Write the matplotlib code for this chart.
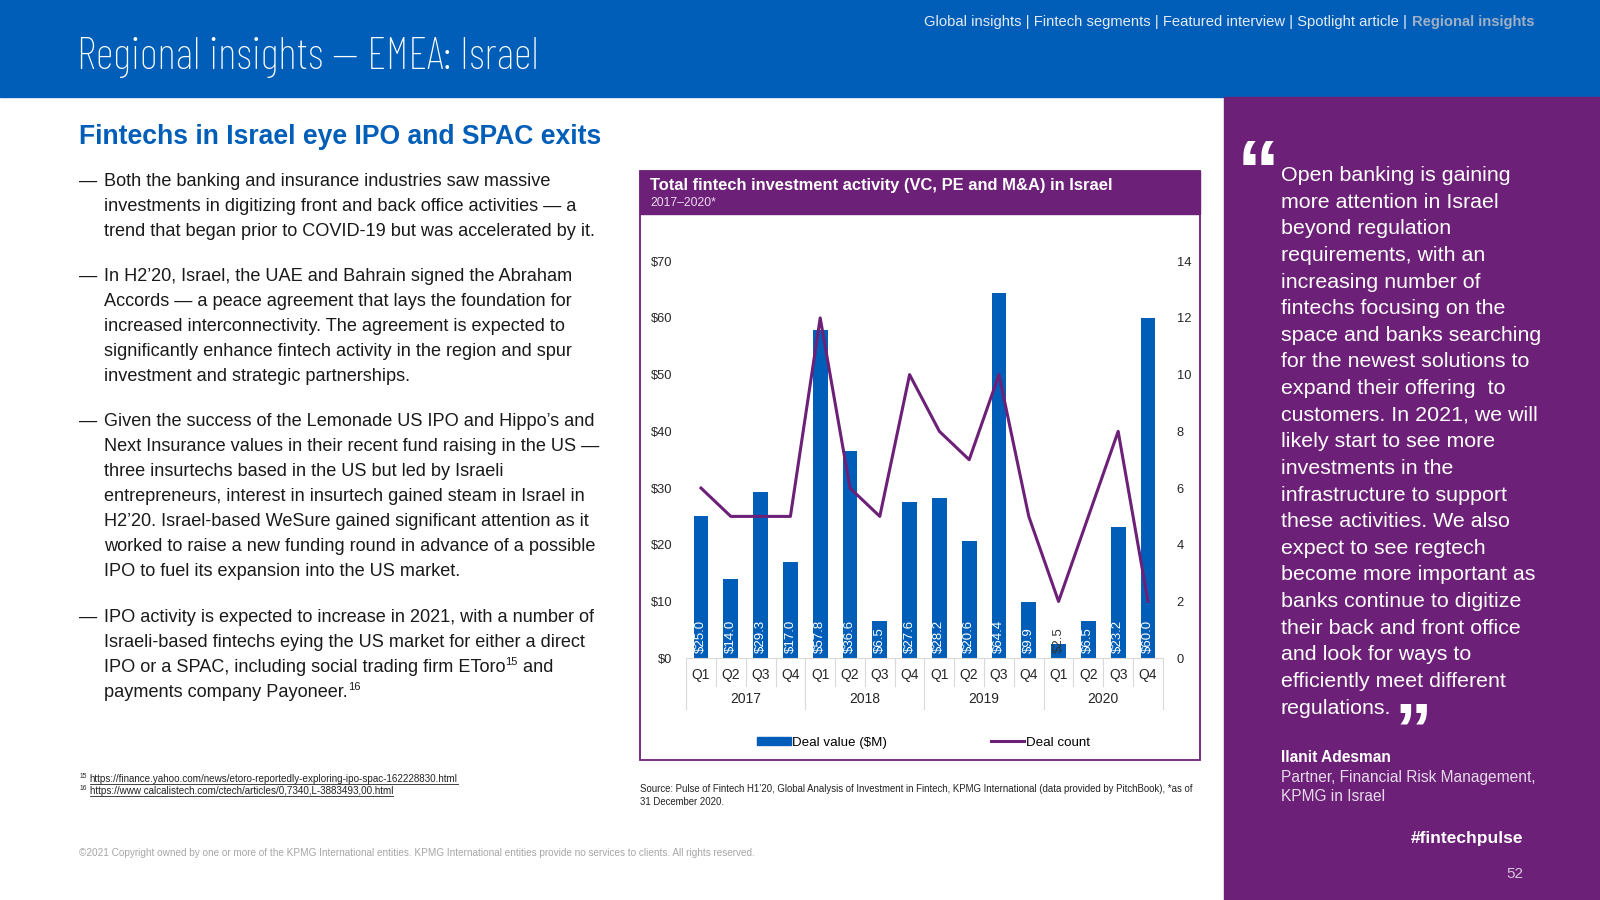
import numpy as np
import matplotlib
matplotlib.use('Agg')
import matplotlib.pyplot as plt
from matplotlib.patches import Rectangle, Patch
from matplotlib.lines import Line2D
from matplotlib import font_manager as fm
from matplotlib.font_manager import FontProperties

plt.rcParams['font.family'] = ['Liberation Sans', 'DejaVu Sans']

# ---- data ----
quarters = ['Q1', 'Q2', 'Q3', 'Q4'] * 4
years = ['2017', '2018', '2019', '2020']
deal_value = [25.0, 14.0, 29.3, 17.0, 57.8, 36.6, 6.5, 27.6,
              28.2, 20.6, 64.4, 9.9, 2.5, 6.5, 23.2, 60.0]
deal_count = [6, 5, 5, 5, 12, 6, 5, 10, 8, 7, 10, 5, 2, 5, 8, 2]
value_ticks = list(range(0, 71, 10))
count_ticks = list(range(0, 15, 2))

BLUE = '#005EB8'
PURPLE = '#6D2077'
W, H = 1568, 882

fig = plt.figure(figsize=(16, 9), dpi=100)
bg = fig.add_axes([0, 0, 1, 1], zorder=0)
bg.set_xlim(0, W)
bg.set_ylim(H, 0)
bg.axis('off')
renderer = fig.canvas.get_renderer()


def right_edge(t):
    bb = t.get_window_extent(renderer)
    return bg.transData.inverted().transform((bb.x1, bb.y0))[0]


def box(x0, y0, x1, y1):
    return [x0 / W, 1 - y1 / H, (x1 - x0) / W, (y1 - y0) / H]


# ---- header band and side panel ----
bg.add_patch(Rectangle((0, 0), W, 95, color=BLUE))
bg.add_patch(Rectangle((1200, 95), W - 1200, H - 95, color=PURPLE))


def pick_condensed():
    best = None
    for f in fm.fontManager.ttflist:
        nm = f.name.lower()
        st = str(f.stretch).lower()
        cond = 'condensed' in nm or 'narrow' in nm or 'condensed' in st
        if not cond or f.style != 'normal':
            continue
        w = f.weight if isinstance(f.weight, int) else fm.weight_dict.get(f.weight, 400)
        score = abs(w - 250)
        if best is None or score < best[0]:
            best = (score, f.fname)
    return best[1] if best else None


cond_path = pick_condensed()
if cond_path:
    title_fp = FontProperties(fname=cond_path, size=42)
else:
    title_fp = FontProperties(family='Roboto', weight='light', size=42)
title = bg.text(75, 68, 'Regional insights — EMEA: Israel', color='white',
                fontproperties=title_fp, va='baseline')
tw = right_edge(title) - 75
if tw > 460:
    title_fp.set_size(42 * 452 / tw)
    title.set_fontproperties(title_fp)

nav = bg.text(906, 22, 'Global insights | Fintech segments | Featured interview | Spotlight article | ',
              color='#E3ECF7', fontsize=10.6, va='center')
bg.text(right_edge(nav), 22, 'Regional insights', color='#9FB0C6',
        fontsize=10.6, fontweight='bold', va='center')

# ---- left column ----
bg.text(77, 134, 'Fintechs in Israel eye IPO and SPAC exits', color=BLUE,
        fontsize=19.1, fontweight='bold', va='center')

bullets = [
    ['Both the banking and insurance industries saw massive',
     'investments in digitizing front and back office activities — a',
     'trend that began prior to COVID-19 but was accelerated by it.'],
    ['In H2’20, Israel, the UAE and Bahrain signed the Abraham',
     'Accords — a peace agreement that lays the foundation for',
     'increased interconnectivity. The agreement is expected to',
     'significantly enhance fintech activity in the region and spur',
     'investment and strategic partnerships.'],
    ['Given the success of the Lemonade US IPO and Hippo’s and',
     'Next Insurance values in their recent fund raising in the US —',
     'three insurtechs based in the US but led by Israeli',
     'entrepreneurs, interest in insurtech gained steam in Israel in',
     'H2’20. Israel-based WeSure gained significant attention as it',
     'worked to raise a new funding round in advance of a possible',
     'IPO to fuel its expansion into the US market.'],
    ['IPO activity is expected to increase in 2021, with a number of',
     'Israeli-based fintechs eying the US market for either a direct',
     'IPO or a SPAC, including social trading firm EToro',
     'payments company Payoneer.'],
]
bullet_tops = [178, 271, 413, 605]
line_gap = 24.5
body = dict(fontsize=13.1, color='#1A1A1A', va='center')
last_lines = []
for top, lines in zip(bullet_tops, bullets):
    bg.text(77, top, '—', **body)
    for i, ln in enumerate(lines):
        last_lines.append(bg.text(102, top + i * line_gap, ln, **body))

# superscripts in last bullet
t15 = last_lines[-2]
s = bg.text(right_edge(t15), t15.get_position()[1] - 5, '15', fontsize=8,
            color='#1A1A1A', va='center')
bg.text(right_edge(s), t15.get_position()[1], ' and', **body)
t16 = last_lines[-1]
bg.text(right_edge(t16), t16.get_position()[1] - 5, '16', fontsize=8,
        color='#1A1A1A', va='center')

# footnotes
footnotes = [('15', 'https://finance.yahoo.com/news/etoro-reportedly-exploring-ipo-spac-162228830.html'),
             ('16', 'https://www calcalistech.com/ctech/articles/0,7340,L-3883493,00.html')]
for k, (num, url) in enumerate(footnotes):
    yy = 763 + k * 12
    bg.text(78, yy - 2, num, fontsize=4.8, color='#222222', va='center')
    u = bg.text(88, yy, url, fontsize=7.1, color='#222222', va='center')
    bg.plot([88, right_edge(u)], [yy + 5.5, yy + 5.5], color='#222222', lw=0.6)

bg.text(77, 836, '©2021 Copyright owned by one or more of the KPMG International entities. '
        'KPMG International entities provide no services to clients. All rights reserved.',
        fontsize=7.2, color='#A6A6A6', va='center')

# ---- chart frame ----
bg.add_patch(Rectangle((627, 168), 549, 577, fill=False, ec=PURPLE, lw=1.3))
bg.add_patch(Rectangle((627, 168), 549, 42, color=PURPLE))
bg.text(637, 182, 'Total fintech investment activity (VC, PE and M&A) in Israel',
        color='white', fontsize=11.9, fontweight='bold', va='center')
bg.text(637, 199, '2017–2020*', color='#EADCEF', fontsize=8.7, va='center')

bg.text(627, 773, 'Source: Pulse of Fintech H1’20, Global Analysis of Investment in Fintech, '
        'KPMG International (data provided by PitchBook), *as of', fontsize=6.95,
        color='#222222', va='center')
bg.text(627, 786, '31 December 2020.', fontsize=6.95, color='#222222', va='center')

# ---- chart ----
x = np.arange(len(deal_value))
ax = fig.add_axes(box(672.4, 256, 1139.6, 645), zorder=2)
ax.set_facecolor('none')
ax.bar(x, deal_value, width=0.5, color=BLUE, zorder=2)
ax.set_xlim(-0.5, len(x) - 0.5)
ax.set_ylim(0, 70)
ax.set_yticks(value_ticks, [f'${v}' for v in value_ticks])
ax.set_xticks(x, quarters)
ax.tick_params(axis='y', length=0, pad=10, labelsize=9.3, labelcolor='#262626')
ax.tick_params(axis='x', length=0, pad=7, labelsize=10, labelcolor='#262626')
for side in ['top', 'left', 'right']:
    ax.spines[side].set_visible(False)
ax.spines['bottom'].set_color('#D9D9D9')

for xi, v in zip(x, deal_value):
    ax.text(xi, 0.9, f'${v:.1f}', rotation=90, ha='center', va='bottom',
            fontsize=9.5, color='white' if v > 5 else '#333333', zorder=3)

trans = ax.get_xaxis_transform()
for b in np.arange(-0.5, len(x), 1.0):
    deep = int(round(b + 0.5)) % 4 == 0
    depth = (50 if deep else 27) / 389
    ax.plot([b, b], [0, -depth], transform=trans, color='#D9D9D9', lw=0.8,
            clip_on=False)
for k, yr in enumerate(years):
    ax.text(4 * k + 1.5, -40 / 389, yr, transform=trans, ha='center',
            va='center', fontsize=10, color='#262626')

ax2 = ax.twinx()
ax2.plot(x, deal_count, color=PURPLE, lw=2.2)
ax2.set_ylim(0, 14)
ax2.set_yticks(count_ticks)
ax2.tick_params(axis='y', length=0, pad=10, labelsize=9.3, labelcolor='#262626')
for side in ['top', 'left', 'right', 'bottom']:
    ax2.spines[side].set_visible(False)

handles = [Patch(color=BLUE, label='Deal value ($M)'),
           Line2D([], [], color=PURPLE, lw=2.2, label='Deal count')]
fig.legend(handles=handles, ncol=2, loc='center', bbox_to_anchor=(905 / W, 1 - 728 / H),
           frameon=False, fontsize=9.6, handlelength=2.5, handleheight=0.55,
           handletextpad=0.1, columnspacing=7.8)

# ---- quote panel ----
quote = ['Open banking is gaining', 'more attention in Israel', 'beyond regulation',
         'requirements, with an', 'increasing number of', 'fintechs focusing on the',
         'space and banks searching', 'for the newest solutions to',
         'expand their offering  to', 'customers. In 2021, we will',
         'likely start to see more', 'investments in the', 'infrastructure to support',
         'these activities. We also', 'expect to see regtech',
         'become more important as', 'banks continue to digitize',
         'their back and front office', 'and look for ways to',
         'efficiently meet different', 'regulations.']
bg.text(1212, 196, '“', color='white', fontsize=62, fontweight='bold', va='baseline')
q_lines = []
for i, ln in enumerate(quote):
    q_lines.append(bg.text(1255, 172 + i * 26.1, ln, color='white', fontsize=15.4,
                           va='center'))
bg.text(right_edge(q_lines[-1]) + 3, 739, '”', color='white', fontsize=54,
        fontweight='bold', va='baseline')

bg.text(1255, 742, 'Ilanit Adesman', color='white', fontsize=11.2, fontweight='bold',
        va='center')
bg.text(1255, 762, 'Partner, Financial Risk Management,', color='#E6DAEA',
        fontsize=11.2, va='center')
bg.text(1255, 781, 'KPMG in Israel', color='#E6DAEA', fontsize=11.2, va='center')
bg.text(1493, 822, '#fintechpulse', color='white', fontsize=12.5, fontweight='bold',
        ha='right', va='center')
bg.text(1493, 857, '52', color='#D8C8DE', fontsize=11, ha='right', va='center')

fig.savefig('out.png', dpi=100)
